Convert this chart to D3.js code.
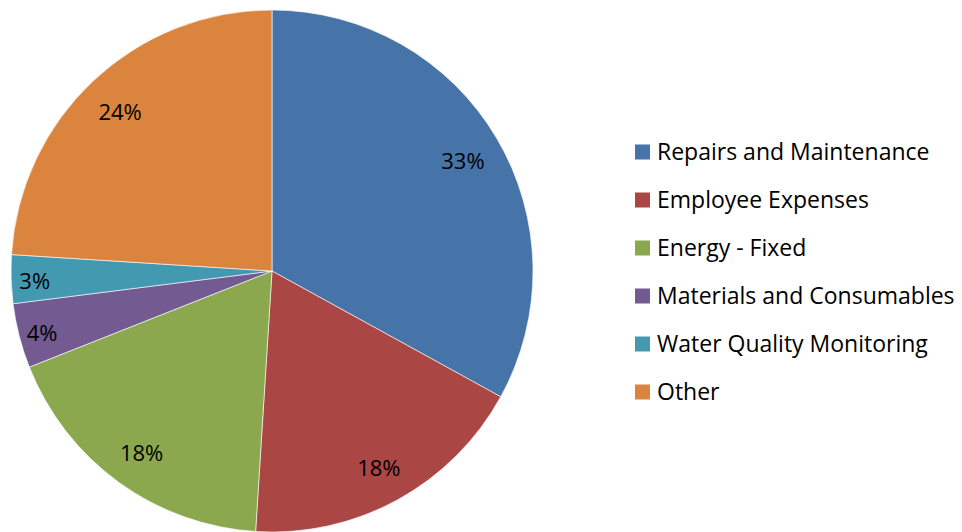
<!DOCTYPE html>
<html>
<head>
<meta charset="utf-8">
<script src="https://cdn.jsdelivr.net/npm/d3@7"></script>
<style>
  body { margin: 0; background: #fff; }
  text { font-family: "Open Sans", sans-serif; fill: #000; }
</style>
</head>
<body>
<div id="chart"></div>
<script>
// chart data
const categories = ["Repairs and Maintenance", "Employee Expenses", "Energy - Fixed",
                    "Materials and Consumables", "Water Quality Monitoring", "Other"];
const values = [33, 18, 18, 4, 3, 24];
const colors = ["#4674a9", "#aa4644", "#8ba84f", "#735a91", "#4299b0", "#db843d"];

const width = 962, height = 532;
const cx = 272, cy = 271, radius = 261;

const svg = d3.select('#chart').append('svg')
    .attr('width', width).attr('height', height);

const pie = d3.pie().sort(null).value(d => d)(values);
const arc = d3.arc().innerRadius(0).outerRadius(radius);
const labelArc = d3.arc().innerRadius(radius * 0.85).outerRadius(radius * 0.85);

const g = svg.append('g').attr('transform', `translate(${cx},${cy})`);

g.selectAll('path')
    .data(pie)
    .enter()
    .append('path')
    .attr('d', arc)
    .attr('fill', (d, i) => colors[i])
    .attr('stroke', '#ffffff')
    .attr('stroke-width', 0.6);

// small slices get pushed a bit further out like excel does
g.selectAll('text.lbl')
    .data(pie)
    .enter()
    .append('text')
    .attr('class', 'lbl')
    .attr('transform', d => {
        let c = labelArc.centroid(d);
        let k = d.data < 6 ? 1.07 : 1.0;
        return `translate(${c[0] * k},${c[1] * k + 3})`;
    })
    .attr('text-anchor', 'middle')
    .attr('dy', '0.35em')
    .style('font-size', '22px')
    .text(d => d.data + '%');

// legend
const legend = svg.append('g').attr('transform', 'translate(635,152)');
const item = legend.selectAll('g')
    .data(categories)
    .enter()
    .append('g')
    .attr('transform', (d, i) => `translate(0,${i * 48})`);

item.append('rect')
    .attr('x', 0).attr('y', -7.5)
    .attr('width', 15).attr('height', 15)
    .attr('fill', (d, i) => colors[i]);

item.append('text')
    .attr('x', 22)
    .attr('dy', '0.35em')
    .style('font-size', '23px')
    .text(d => d);
</script>
</body>
</html>
